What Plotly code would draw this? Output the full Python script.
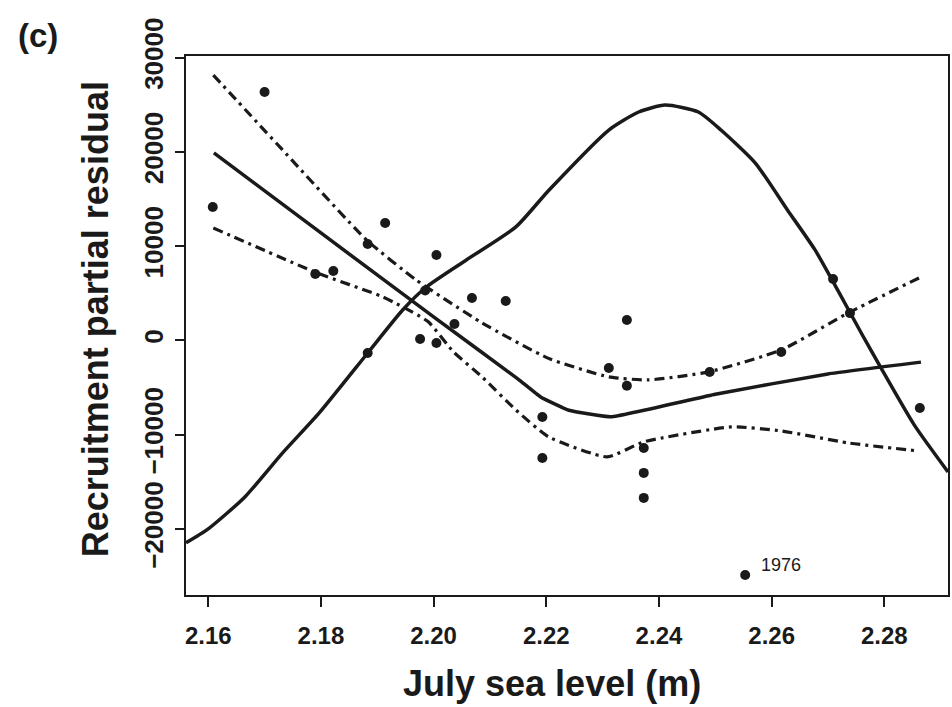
import plotly.graph_objects as go

# Observed partial residuals (July sea level in m, residual recruitment)
obs_x = [2.1608, 2.1700, 2.1790, 2.1822, 2.1883, 2.1883, 2.1914, 2.1976, 2.1985,
         2.2005, 2.2005, 2.2037, 2.2068, 2.2128, 2.2193, 2.2193, 2.2311, 2.2343,
         2.2343, 2.2373, 2.2373, 2.2373, 2.2490, 2.2553, 2.2617, 2.2709, 2.2739,
         2.2863]
obs_y = [14160, 26350, 7050, 7370, 10230, -1330, 12460, 160, 5300,
         9070, -270, 1750, 4510, 4190, -8120, -12460, -2920, 2170,
         -4800, -11400, -14050, -16700, -3340, -24870, -1220, 6520, 2900,
         -7160]

# Fitted smooth term
fit_x = [2.1610, 2.1800, 2.2000, 2.2150, 2.2190, 2.2240, 2.2315, 2.2500, 2.2700, 2.2865]
fit_y = [19900, 11400, 2500, -4100, -6000, -7400, -8100, -5700, -3550, -2300]

# Upper and lower confidence bands
upper_x = [2.1609, 2.1732, 2.1881, 2.1969, 2.2086, 2.2204, 2.2311, 2.2381, 2.2488,
           2.2617, 2.2736, 2.2865]
upper_y = [28150, 20200, 10660, 6420, 1860, -1900, -3870, -4190, -3340,
           -1010, 2920, 6730]
lower_x = [2.1609, 2.1793, 2.1910, 2.1990, 2.2035, 2.2086, 2.2146, 2.2204, 2.2308,
           2.2373, 2.2529, 2.2617, 2.2736, 2.2860]
lower_y = [11930, 7160, 4610, 2000, -1200, -3870, -7370, -10230, -12350,
           -10760, -9170, -9600, -10870, -11720]

# Alternative (humped) smooth
hump_x = [2.15605, 2.1600, 2.1665, 2.1732, 2.1797, 2.1883, 2.1945, 2.1987, 2.2058,
          2.2146, 2.2205, 2.2311, 2.2364, 2.2411, 2.2470, 2.2510, 2.2571, 2.2628,
          2.2677, 2.2717, 2.2761, 2.2793, 2.2853, 2.2913]
hump_y = [-21470, -19990, -16600, -11930, -7690, -1330, 3230, 5670, 8540,
          12040, 15960, 22320, 24230, 24970, 24230, 22320, 18820, 13840,
          9600, 5360, 580, -2810, -8960, -13950]

x_ticks = [2.16, 2.18, 2.20, 2.22, 2.24, 2.26, 2.28]
x_tick_text = ["2.16", "2.18", "2.20", "2.22", "2.24", "2.26", "2.28"]
y_ticks = [-20000, -10000, 0, 10000, 20000, 30000]
y_tick_text = ["\u221220000", "\u221210000", "0", "10000", "20000", "30000"]

ink = "#1a1a1a"
dashdot = "10px,5px,3px,5px"
font_family = "Liberation Sans, Arial, sans-serif"

fig = go.Figure()
fig.add_trace(go.Scatter(x=hump_x, y=hump_y, mode="lines",
                         line=dict(color=ink, width=3.5, shape="spline", smoothing=0.6)))
fig.add_trace(go.Scatter(x=upper_x, y=upper_y, mode="lines",
                         line=dict(color=ink, width=3.2, dash=dashdot, shape="spline", smoothing=0.5)))
fig.add_trace(go.Scatter(x=lower_x, y=lower_y, mode="lines",
                         line=dict(color=ink, width=3.2, dash=dashdot, shape="spline", smoothing=0.5)))
fig.add_trace(go.Scatter(x=fit_x, y=fit_y, mode="lines",
                         line=dict(color=ink, width=3.5, shape="spline", smoothing=0.3)))
fig.add_trace(go.Scatter(x=obs_x, y=obs_y, mode="markers",
                         marker=dict(color=ink, size=10, line=dict(width=0))))

fig.update_layout(
    width=952, height=707,
    margin=dict(l=186, r=2, t=56, b=112),
    paper_bgcolor="white", plot_bgcolor="white",
    showlegend=False,
    font=dict(family=font_family, color=ink),
)
fig.update_xaxes(
    range=[2.15605, 2.2913], tickvals=x_ticks, ticktext=x_tick_text,
    showgrid=False, zeroline=False,
    showline=True, linecolor=ink, linewidth=2, mirror=True,
    ticks="outside", ticklen=10, tickwidth=2, tickcolor=ink,
    tickfont=dict(size=24, weight="bold", family=font_family, color=ink),
    ticklabelstandoff=8,
)
fig.update_yaxes(
    range=[-27000, 30170], tickvals=y_ticks, ticktext=y_tick_text,
    showgrid=False, zeroline=False,
    showline=True, linecolor=ink, linewidth=2, mirror=True,
    ticks="outside", ticklen=9, tickwidth=2, tickcolor=ink,
    tickangle=-90,
    tickfont=dict(size=26, weight="bold", family=font_family, color=ink),
    ticklabelstandoff=2,
)

fig.add_annotation(x=2.2553, y=-24870, xref="x", yref="y", text="1976",
                   showarrow=False, xanchor="left", yanchor="middle",
                   xshift=14, yshift=10,
                   font=dict(size=18, family=font_family, color=ink))
fig.add_annotation(x=(16 - 186) / 764, y=(595 - 35) / 539, xref="paper", yref="paper",
                   text="<b>(c)</b>",
                   showarrow=False, xanchor="left", yanchor="middle",
                   font=dict(size=33, family=font_family, color=ink))
fig.add_annotation(x=(553 - 186) / 764, y=(595 - 684) / 539, xref="paper", yref="paper",
                   text="<b>July sea level (m)</b>", showarrow=False,
                   xanchor="center", yanchor="middle",
                   font=dict(size=36, family=font_family, color=ink))
fig.add_annotation(x=(95 - 186) / 764, y=(595 - 319) / 539, xref="paper", yref="paper",
                   text="<b>Recruitment partial residual</b>", showarrow=False,
                   textangle=-90, xanchor="center", yanchor="middle",
                   font=dict(size=36, family=font_family, color=ink))

fig.write_html("out.html")
